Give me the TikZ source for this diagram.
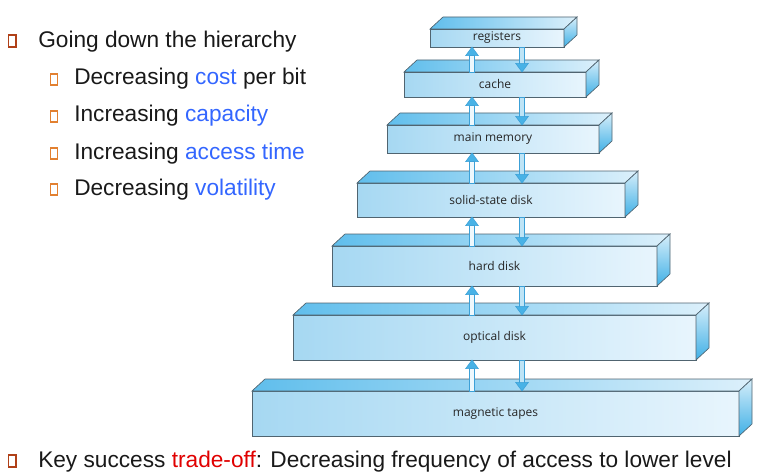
\documentclass[tikz,border=0pt]{standalone}
\usepackage{fontspec}
\setmainfont{Liberation Sans}
\newfontfamily\boxfont{Open Sans}
\usetikzlibrary{calc}
\definecolor{bluetxt}{RGB}{51,102,255}
\definecolor{redtxt}{RGB}{224,0,0}
\definecolor{bulA}{RGB}{176,64,24}
\definecolor{bulB}{RGB}{226,128,48}
\definecolor{frontL}{RGB}{166,216,242}
\definecolor{frontR}{RGB}{232,245,253}
\definecolor{topL}{RGB}{96,190,236}
\definecolor{topR}{RGB}{220,240,251}
\definecolor{sideT}{RGB}{214,238,250}
\definecolor{sideB}{RGB}{64,176,230}
\definecolor{edge}{RGB}{80,100,112}
\definecolor{arrB}{RGB}{60,160,215}
\definecolor{arrHead}{RGB}{72,178,230}
\definecolor{upFill}{RGB}{238,248,253}
\definecolor{downFill}{RGB}{190,228,246}
\begin{document}
\begin{tikzpicture}[x=0.75pt,y=0.75pt,
  layer/.style={draw=edge, line width=0.5pt, left color=frontL, right color=frontR,
    inner sep=0pt, outer sep=0pt, font=\boxfont\fontsize{9}{10}\selectfont, text=black!85},
  topface/.style={draw=edge, line width=0.5pt, left color=topL, right color=topR},
  sideface/.style={draw=edge, line width=0.5pt, top color=sideT, bottom color=sideB},
  bigtxt/.style={anchor=base west, inner sep=0pt, font=\fontsize{17}{20}\selectfont, text=black!90},
  bulletA/.style={draw=bulA, line width=1.1pt},
  bulletB/.style={draw=bulB, line width=1.1pt},
  upshaft/.style={draw=arrB, line width=0.4pt, fill=upFill},
  dnshaft/.style={draw=arrB, line width=0.4pt, fill=downFill},
  arrowhead/.style={draw=arrB, line width=0.4pt, fill=arrHead}]
\useasboundingbox (0,0) rectangle (777,-474);

% text
\draw[bulletA] (8.5,-35) rectangle (16,-47);
\node[bigtxt] (t0) at (38,-48) {Going down the hierarchy};
\draw[bulletB] (50.5,-74) rectangle (57.5,-85);
\node[bigtxt] (t1) at (74,-85) {Decreasing \textcolor{bluetxt}{cost} per bit};
\draw[bulletB] (50.5,-111) rectangle (57.5,-122);
\node[bigtxt] (t2) at (74,-122) {Increasing \textcolor{bluetxt}{capacity}};
\draw[bulletB] (50.5,-148) rectangle (57.5,-159);
\node[bigtxt] (t3) at (74,-159) {Increasing \textcolor{bluetxt}{access time}};
\draw[bulletB] (50.5,-184) rectangle (57.5,-195);
\node[bigtxt] (t4) at (74,-195) {Decreasing \textcolor{bluetxt}{volatility}};
\draw[bulletA] (8.5,-455) rectangle (16,-467);
\node[bigtxt] (t5) at (38,-467) {Key success \textcolor{redtxt}{trade-off}: Decreasing frequency of access to lower level};

% layers
\node[layer, minimum width=100.5pt, minimum height=13.5pt] (reg) at (497,-38) {registers};
\node[layer, minimum width=136.5pt, minimum height=18.75pt] (cache) at (495,-84.5) {cache};
\node[layer, minimum width=159pt, minimum height=21pt] (mm) at (493,-139) {main memory};
\node[layer, minimum width=201pt, minimum height=25.5pt] (ssd) at (491,-200) {solid-state disk};
\node[layer, minimum width=243.75pt, minimum height=30pt] (hd) at (494.5,-266) {hard disk};
\node[layer, minimum width=302.25pt, minimum height=33.75pt] (od) at (494.5,-337.5) {optical disk};
\node[layer, minimum width=365.25pt, minimum height=33.75pt] (mt) at (495.5,-413.5) {magnetic tapes};

\foreach \n in {reg,cache,mm,ssd,hd,od,mt}{
  \draw[topface] (\n.north west) -- ++(13,12) -- ($(\n.north east)+(13,12)$) -- (\n.north east) -- cycle;
  \draw[sideface] (\n.north east) -- ++(13,12) -- ($(\n.south east)+(13,12)$) -- (\n.south east) -- cycle;
}

% arrows
\coordinate (upx) at (472,0);
\coordinate (dnx) at (522,0);
\foreach \u/\l in {reg/cache,cache/mm,mm/ssd,ssd/hd,hd/od,od/mt}{
  \draw[upshaft] let \p1=(upx |- \l.north), \p2=(upx |- \u.south) in
    (\x1-1.9pt,\y1) -- (\x1-1.9pt,\y2-6pt) -- (\x1+1.9pt,\y2-6pt) -- (\x1+1.9pt,\y1) -- cycle;
  \draw[arrowhead] let \p2=(upx |- \u.south) in
    (\x2-4.8pt,\y2-6.5pt) -- (\x2,\y2) -- (\x2+4.8pt,\y2-6.5pt) -- cycle;
  \draw[dnshaft] let \p1=(dnx |- \u.south), \p2=(dnx |- \l.north) in
    (\x1-1.9pt,\y1) -- (\x1-1.9pt,\y2+6pt) -- (\x1+1.9pt,\y2+6pt) -- (\x1+1.9pt,\y1) -- cycle;
  \draw[arrowhead] let \p2=(dnx |- \l.north) in
    (\x2-4.8pt,\y2+6.5pt) -- (\x2,\y2) -- (\x2+4.8pt,\y2+6.5pt) -- cycle;
}
\end{tikzpicture}
\end{document}
